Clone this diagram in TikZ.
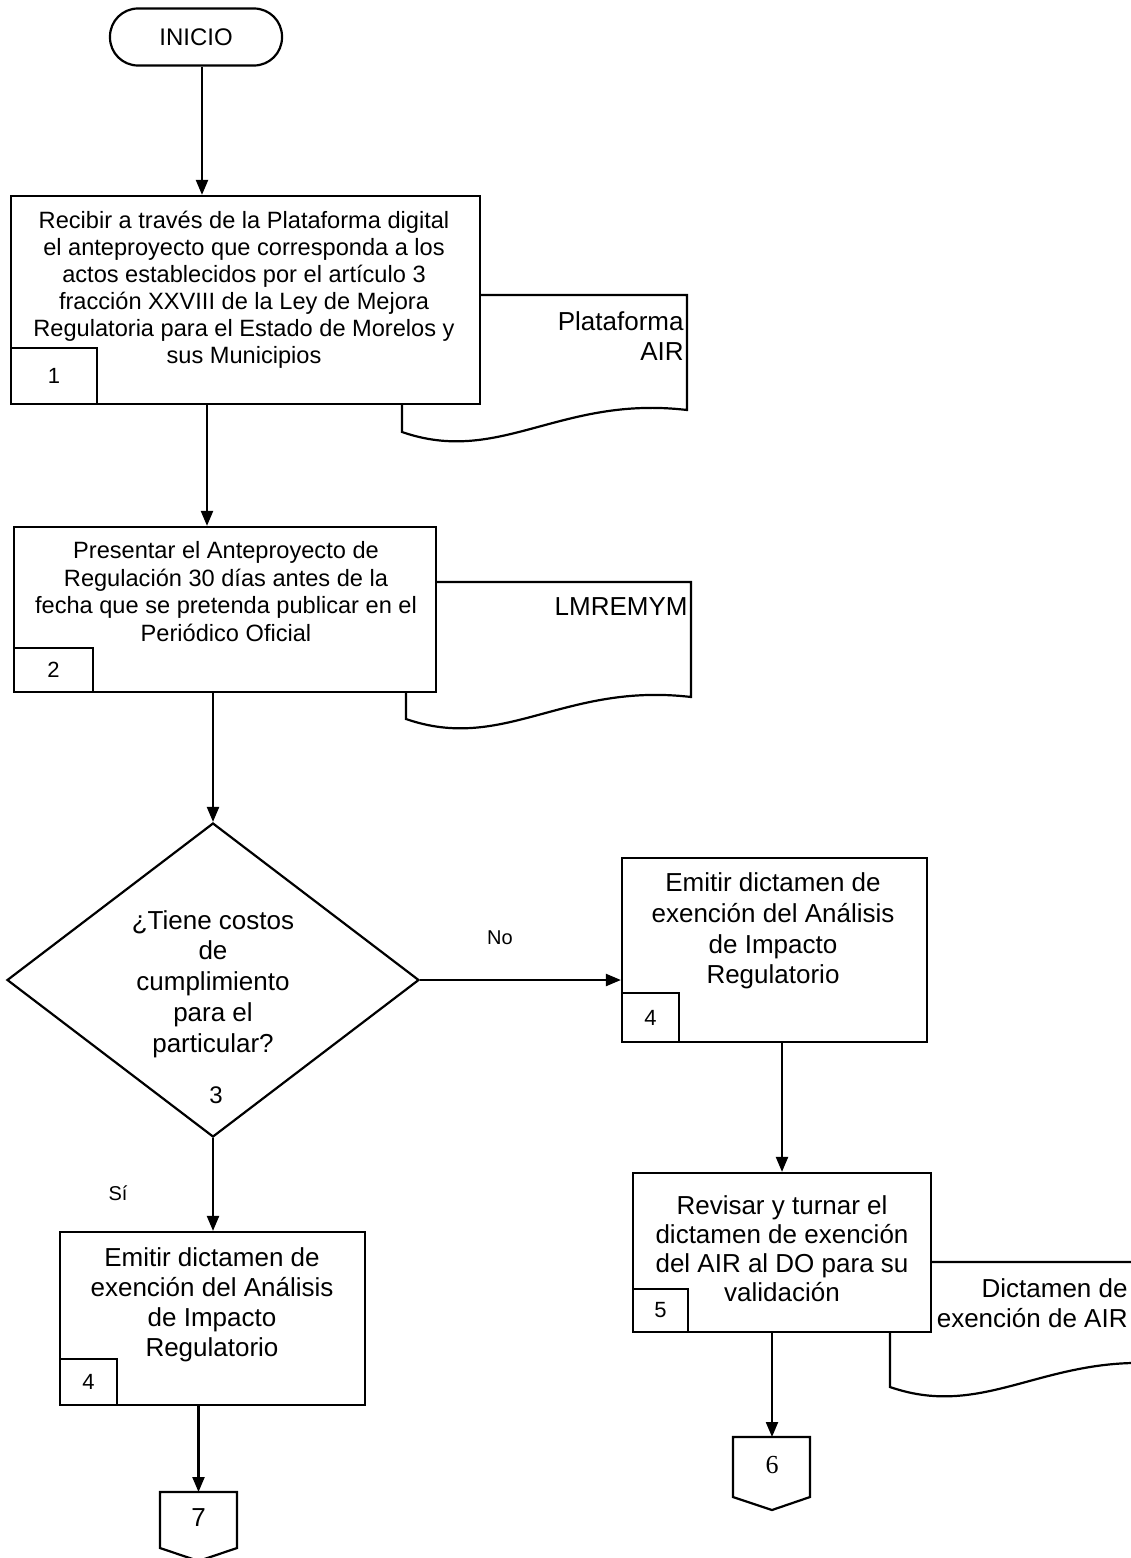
\documentclass[tikz,border=0pt]{standalone}
\usepackage{fontspec}
\setmainfont{Liberation Sans}
\newfontfamily\serifnum{Liberation Serif}
\usetikzlibrary{arrows.meta,shapes.geometric}
\tikzset{
  ln/.style={line width=1.1pt},
  box/.style={draw, ln, fill=white, inner sep=0pt},
  numbox/.style={draw, ln, fill=white, inner sep=0pt, font=\fontsize{11}{13}\selectfont},
  txt/.style={align=center, inner sep=0pt},
  arr/.style={ln, -{Triangle[length=7.5pt,width=6pt]}},
  doc/.style={draw, ln, fill=white},
  lab/.style={inner sep=0pt, font=\fontsize{10}{12}\selectfont},
}
\begin{document}
\begin{tikzpicture}[x=0.5pt,y=-0.5pt]
\useasboundingbox (0,0) rectangle (1130,1558);
\fill[white] (0,0) rectangle (1130,1558);

% documents (drawn first, boxes cover them)
\draw[doc] (402,295) -- (687,295) -- (687,410) .. controls (560,395) and (500,466) .. (402,432) -- cycle;
\draw[doc] (406,582) -- (691,582) -- (691,697) .. controls (564,682) and (504,753) .. (406,719) -- cycle;
\draw[doc] (890,1262) -- (1175,1262) -- (1175,1365) .. controls (1048,1350) and (988,1421) .. (890,1387) -- cycle;
\node[txt, align=right, anchor=east, font=\fontsize{13}{15}\selectfont] (d1t) at (684,336) {Plataforma\\AIR};
\node[txt, anchor=east, font=\fontsize{13}{15}\selectfont] (d2t) at (688,607) {LMREMYM};
\node[txt, align=right, anchor=east, font=\fontsize{13}{15}\selectfont] (d3t) at (1128,1303) {Dictamen de\\exención de AIR};

% start
\node[draw, ln, fill=white, rounded corners=14pt, minimum width=86pt, minimum height=28.5pt, inner sep=0pt,
      font=\fontsize{12}{14}\selectfont] (ini) at (196,37) {INICIO};

% box 1
\node[box, minimum width=234.5pt, minimum height=104pt] (b1) at (245.5,300) {};
\node[txt, font=\fontsize{11.8}{13.5}\selectfont] (b1t) at (244,290) {Recibir a través de la Plataforma digital\\el anteproyecto que corresponda a los\\actos establecidos por el artículo 3\\fracción XXVIII de la Ley de Mejora\\Regulatoria para el Estado de Morelos y\\sus Municipios};
\node[numbox, minimum width=43pt, minimum height=28pt] (n1) at (54,376) {1};

% box 2
\node[box, minimum width=211pt, minimum height=82.5pt] (b2) at (225,609.5) {};
\node[txt, font=\fontsize{11.8}{13.85}\selectfont] (b2t) at (226,591.5) {Presentar el Anteproyecto de\\Regulación 30 días antes de la\\fecha que se pretenda publicar en el\\Periódico Oficial};
\node[numbox, minimum width=39.5pt, minimum height=22pt] (n2) at (53.5,670) {2};

% decision
\node[draw, ln, fill=white, shape=diamond, minimum width=206pt, minimum height=157pt, inner sep=0pt] (d3) at (213,980) {};
\node[txt, font=\fontsize{13}{15.4}\selectfont] (d3t) at (213,984) {¿Tiene costos\\de\\cumplimiento\\para el\\particular?};
\node[inner sep=0pt, font=\fontsize{12}{14}\selectfont] (n3) at (216,1095) {3};

% box 4 right
\node[box, minimum width=152.5pt, minimum height=92pt] (b4r) at (774.5,950) {};
\node[txt, font=\fontsize{13}{15.3}\selectfont] (b4rt) at (773,931) {Emitir dictamen de\\exención del Análisis\\de Impacto\\Regulatorio};
\node[numbox, minimum width=28.5pt, minimum height=24.5pt] (n4r) at (650.5,1017.5) {4};

% box 5
\node[box, minimum width=149pt, minimum height=79.5pt] (b5) at (782,1252.5) {};
\node[txt, font=\fontsize{13}{14.5}\selectfont] (b5t) at (782,1249) {Revisar y turnar el\\dictamen de exención\\del AIR al DO para su\\validación};
\node[numbox, minimum width=27.5pt, minimum height=21.5pt] (n5) at (660.5,1310.5) {5};

% box 4 left
\node[box, minimum width=152.5pt, minimum height=86.5pt] (b4l) at (212.5,1318.5) {};
\node[txt, font=\fontsize{13}{15}\selectfont] (b4lt) at (212,1305) {Emitir dictamen de\\exención del Análisis\\de Impacto\\Regulatorio};
\node[numbox, minimum width=28.5pt, minimum height=23pt] (n4l) at (88.5,1382) {4};

% off-page connectors
\coordinate (c6) at (772,1437);
\draw[ln] (733,1437) -- (810,1437) -- (810,1497) -- (772,1510) -- (733,1497) -- cycle;
\node[inner sep=0pt, font=\serifnum\fontsize{13}{15}\selectfont] (n6) at (772,1465) {6};
\coordinate (c7) at (198.5,1492);
\draw[ln] (160,1492) -- (237,1492) -- (237,1548) -- (198.5,1561) -- (160,1548) -- cycle;
\node[inner sep=0pt, font=\fontsize{13}{15}\selectfont] (n7) at (198.5,1518) {7};

% connectors
\coordinate (ax1) at (202,0);
\coordinate (ax2) at (207,0);
\draw[arr] (ini.south -| ax1) -- (b1.north -| ax1);
\draw[arr] (b1.south -| ax2) -- (b2.north -| ax2);
\draw[arr] (b2.south -| d3.north) -- (d3.north);
\draw[arr] (d3.east) -- (d3.east -| b4r.west);
\draw[arr] (b4r.south -| b5.north) -- (b5.north);
\draw[arr] (d3.south) -- (d3.south |- b4l.north);
\draw[arr] (b4l.south -| c7) -- (c7);
\draw[arr] (b5.south -| c6) -- (c6);

% labels
\node[lab] (lno) at (500,938) {No};
\node[lab] (lsi) at (118,1193) {Sí};
\end{tikzpicture}
\end{document}
